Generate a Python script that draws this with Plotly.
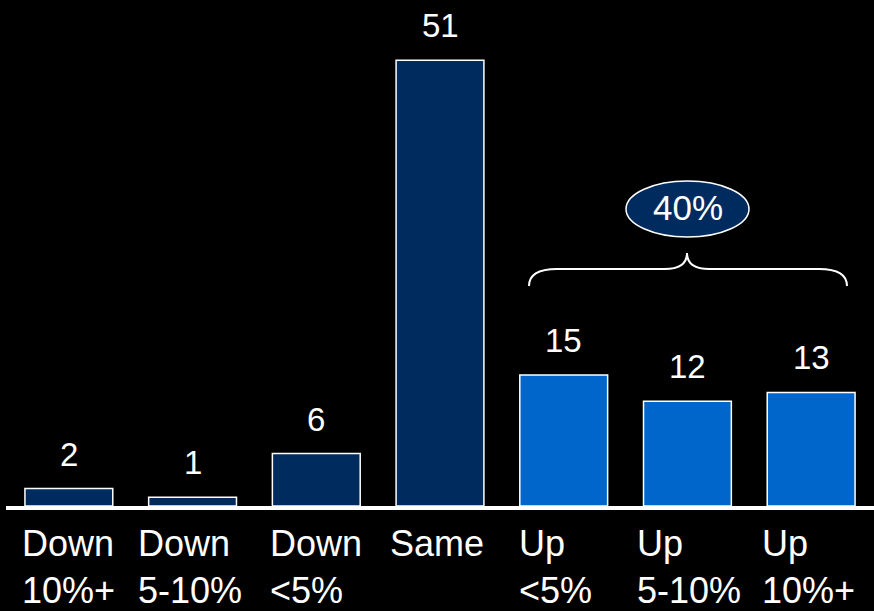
import plotly.graph_objects as go

categories = ["Down<br>10%+", "Down<br>5-10%", "Down<br><5%", "Same", "Up<br><5%", "Up<br>5-10%", "Up<br>10%+"]
values = [2, 1, 6, 51, 15, 12, 13]
bar_colors = ["#002B5F", "#002B5F", "#002B5F", "#002B5F", "#0066CC", "#0066CC", "#0066CC"]
group_label = "40%"

# horizontal pixel offsets of the left-aligned category labels (layout only)
label_shift = [-49, -57, -48, -52, -47, -52, -51]

FONT = "Liberation Sans, Arial, sans-serif"
idx = list(range(len(categories)))

fig = go.Figure()
fig.add_trace(go.Bar(
    x=idx, y=values, width=0.71,
    marker=dict(color=bar_colors, line=dict(color="white", width=1.5)),
    hoverinfo="skip",
))

annotations = []
for i, v in zip(idx, values):
    annotations.append(dict(
        x=i, y=v, xref="x", yref="y", text=str(v), showarrow=False,
        yanchor="bottom", yshift=14,
        font=dict(family=FONT, size=33, color="white"),
    ))
for i, c, s in zip(idx, categories, label_shift):
    annotations.append(dict(
        x=i, y=0, xref="x", yref="paper", text=c, showarrow=False,
        xanchor="left", yanchor="top", align="left", xshift=s, yshift=-15,
        font=dict(family=FONT, size=36, color="white"),
    ))

# ellipse + label (paper coords)
L, W, H = 7, 866.0, 506.0
def px(x):
    return (x - L) / W
def py(y):
    return (506 - y) / H

annotations.append(dict(
    x=px(688), y=py(208), xref="paper", yref="paper", text=group_label,
    showarrow=False, xanchor="center", yanchor="middle",
    font=dict(family=FONT, size=35, color="white"),
))

shapes = [
    dict(type="circle", xref="paper", yref="paper",
         x0=px(626), x1=px(749), y0=py(237), y1=py(181),
         fillcolor="#002B5F", line=dict(color="white", width=1.5), layer="below"),
]

# brace
xl, xr, xm = 529, 847, 687
yt, yh, ym = 286, 269, 253
r = 14
path = (
    f"M {px(xl)},{py(yt)} "
    f"Q {px(xl)},{py(yh)} {px(xl + r * 2)},{py(yh)} "
    f"L {px(xm - r * 1.6)},{py(yh)} "
    f"Q {px(xm)},{py(yh)} {px(xm)},{py(ym)} "
    f"Q {px(xm)},{py(yh)} {px(xm + r * 1.6)},{py(yh)} "
    f"L {px(xr - r * 2)},{py(yh)} "
    f"Q {px(xr)},{py(yh)} {px(xr)},{py(yt)}"
)
shapes.append(dict(type="path", xref="paper", yref="paper", path=path,
                   line=dict(color="white", width=2)))

# axis line across the whole width
shapes.append(dict(type="line", xref="paper", yref="paper",
                   x0=px(6), x1=px(874), y0=py(508), y1=py(508),
                   line=dict(color="white", width=4)))

fig.update_layout(
    width=874, height=611,
    margin=dict(l=L, r=1, t=0, b=105),
    paper_bgcolor="black", plot_bgcolor="black",
    showlegend=False,
    xaxis=dict(range=[-0.5, 6.5], showticklabels=False, showgrid=False, zeroline=False,
               showline=False, ticks=""),
    yaxis=dict(range=[0, 57.9], visible=False, showgrid=False, zeroline=False),
    annotations=annotations,
    shapes=shapes,
)

fig.write_html("out.html")
